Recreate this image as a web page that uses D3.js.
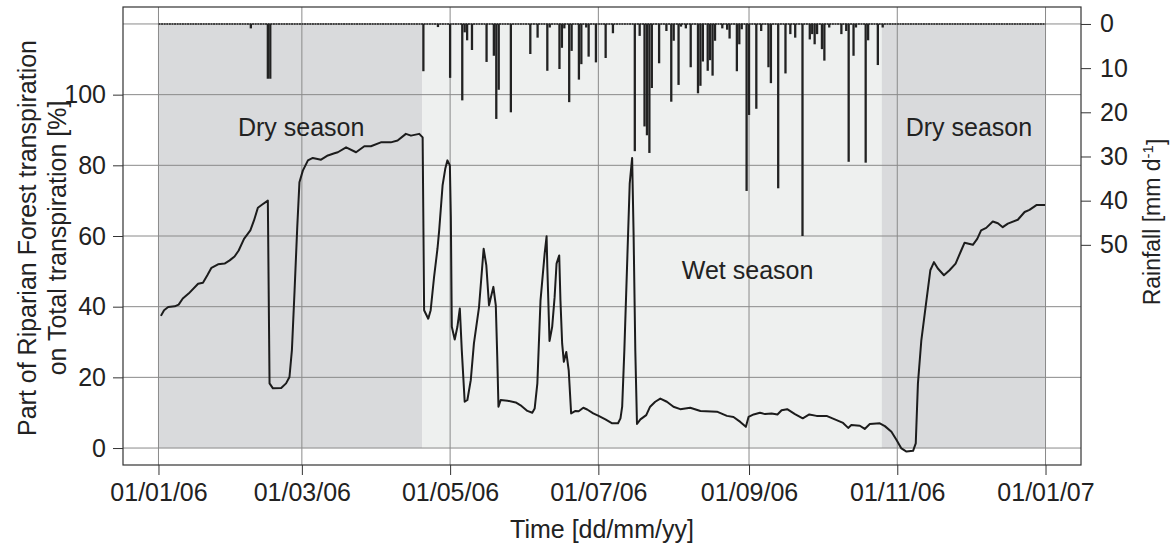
<!DOCTYPE html>
<html>
<head>
<meta charset="utf-8">
<script src="https://cdn.jsdelivr.net/npm/d3@7"></script>
<style>
body { margin: 0; background: #fff; }
text { font-family: "Liberation Sans", Arial, Helvetica, sans-serif; fill: #222; }
.axis text { font-size: 25px; fill: #222; }
.axis line { stroke: #333; }
</style>
</head>
<body>
<div class="chart"></div>
<script>
// transpiration share [%], [day of 2006, value]
var transp = [
  [1,37.4],[2.3,39],[4,39.9],[6.7,40.1],[8.3,40.6],[10,42.3],[12.4,43.7],[16.3,46.5],[18.3,46.8],
  [20.1,48.9],[21.8,51],[24.5,52],[27.2,52.2],[29.3,53.1],[31.3,54.2],[33,55.9],[35.2,59.2],
  [37.8,61.6],[39.3,64.4],[40.9,68],[42.7,68.9],[45,70],[45.7,18.3],[47.1,16.9],[50.5,17],
  [52.5,18.3],[53.9,20.1],[54.9,27.7],[56,44.6],[57.1,62.5],[58,75.2],[59.4,78.5],[61.5,81.4],
  [63.5,82.1],[66.9,81.6],[69.7,82.8],[72.4,83.4],[73.8,83.7],[77.2,85.1],[81.3,83.7],[84.7,85.4],
  [87.4,85.4],[91.5,86.5],[95.6,86.5],[98.4,87],[101.8,88.9],[103.9,88.4],[107.3,88.9],[108.7,87.9],
  [109.3,39],[111,36.6],[112,39],[113.4,48.4],[114.8,56.4],[115.5,61.6],[116.9,74.3],[118,79],
  [118.9,81.4],[119.9,80],[120.3,65.3],[120.7,34.3],[121.9,30.7],[123,34.3],[124,39.5],[124.8,27.7],
  [126,13.1],[127.1,13.6],[128.5,19.2],[129.8,29.6],[131.9,39.9],[133.8,56.4],[134.9,51.7],[136,40.4],
  [137.8,45.6],[138.8,40.4],[139.4,25.8],[139.9,11.7],[140.8,13.6],[143.6,13.4],[147,12.9],[149,12.1],
  [151.8,10.5],[153.8,10],[154.8,11.2],[155.9,18.3],[157.2,41.8],[158.9,55],[159.7,59.9],[160,51.2],
  [160.9,30.3],[162,34.3],[163,42.7],[163.8,52.2],[164.9,54.5],[165.4,41.8],[166.1,29.6],[166.8,24.4],
  [167.8,27.2],[168.8,22],[169.8,9.8],[171.6,10.5],[172.9,10.4],[174.8,11.4],[176.4,10.9],[178.9,9.8],
  [181.1,9.1],[183.9,8.1],[186.7,7],[189.1,7],[190.1,8.4],[190.8,11.7],[191.7,27.7],[192.8,51.2],
  [193.9,74.8],[194.9,82.1],[195.5,60.6],[196.2,27.7],[196.9,6.8],[198.3,8.1],[200.7,9.3],[202.3,11.7],
  [204.4,13.1],[206.5,14],[209.2,13.1],[211.9,11.7],[214.7,11],[218.8,11.4],[223,10.5],[229.8,10.3],
  [233.9,9.1],[236.6,8.8],[239.4,7.4],[241.7,6],[242.8,8.8],[244.9,9.5],[247.5,10],[249.6,9.6],
  [252.3,9.8],[254.7,9.5],[256.4,10.7],[258.7,11],[261.9,9.6],[265.1,8.4],[267.8,9.5],[270.8,9.1],
  [274.9,9.1],[278.3,8.1],[281.7,7.1],[283.8,5.7],[285.1,6.5],[288.6,6.3],[290.6,5.4],[292.7,6.8],
  [296.8,7],[298.9,6.2],[301.6,4.6],[303.7,2.3],[305.7,-0.1],[307.8,-1],[310.5,-0.8],[311.6,1.3],
  [312.5,18.3],[313.9,30.5],[316,41.8],[317.6,50.3],[319.1,52.6],[320.7,50.8],[323.2,48.9],[325.5,50.3],
  [328,52.2],[330.3,55.9],[331.7,58.1],[335.1,57.5],[336.9,59.2],[338.5,61.6],[340.6,62.3],[343.3,64.1],
  [345.4,63.6],[347.4,62.5],[349.5,63.5],[353.6,64.6],[356.4,66.8],[358.4,67.4],[361.4,68.8],[364.8,68.8]
];

// daily rainfall [mm], [day of 2006, value], dry days left out
var rain = [
  [38,1.0],[45,12.4],[46,12.4],[109,10.7],[115,0.7],[120,12.2],[125,17.3],[126,1.9],[127,3.7],
  [129,5.9],[135,8.6],[138,7.2],[139,21.5],[140,14.9],[145,20.0],[153,6.8],[156,3.1],[160,10.6],
  [161,0.8],[165,10.2],[166,5.4],[167,1.0],[169,17.7],[170,6.1],[173,12.6],[174,9.1],[176,0.8],
  [177,7.4],[180,8.7],[184,7.7],[187,2.1],[196,28.8],[198,2.7],[200,23.2],[201,25.2],[202,29.2],
  [203,14.5],[206,8.9],[209,1.6],[211,17.6],[212,3.8],[214,13.8],[215,0.6],[217,1.0],[219,9.8],
  [222,15.7],[223,14.0],[224,8.5],[226,10.6],[227,8.2],[228,11.7],[229,3.8],[232,1.0],[234,1.3],
  [235,3.3],[238,10.7],[239,4.6],[240,1.2],[242,37.8],[243,20.6],[246,19.2],[248,1.6],[251,9.8],
  [252,13.4],[255,37.2],[258,11.2],[260,2.3],[262,3.1],[265,48.0],[268,3.5],[269,2.3],[270,4.6],
  [271,2.3],[273,5.7],[274,8.3],[276,0.8],[281,2.3],[283,1.6],[284,31.2],[286,7.2],[287,0.8],
  [291,31.4],[292,3.7],[296,9.3],[298,0.8]
];

var seasons = [
  {start: 0, end: 108.6, name: "Dry season"},
  {start: 108.6, end: 297.6, name: "Wet season"},
  {start: 297.6, end: 365, name: "Dry season"}
];

var dateTicks = ["2006-01-01", "2006-03-01", "2006-05-01", "2006-07-01", "2006-09-01", "2006-11-01", "2007-01-01"];
var pctTicks = [0, 20, 40, 60, 80, 100];
var pctGrid = [0, 20, 40, 60, 80, 100, 120];
var rainTicks = [0, 10, 20, 30, 40, 50];

var margin = {top: 7, right: 92, bottom: 81, left: 123};
var width = 1173 - margin.left - margin.right;
var height = 546 - margin.top - margin.bottom;

var t0 = Date.UTC(2006, 0, 1);
function day(d) { return new Date(t0 + d * 864e5); }

var x = d3.scaleUtc()
    .domain([day(-365 * 0.04), day(365 * 1.04)])
    .range([0, width]);

var y = d3.scaleLinear()
    .domain([-120 * 0.04, 120 * 1.04])
    .range([height, 0]);

// rainfall hangs from the top, axis reversed
var rainMax = 96;
var yRain = d3.scaleLinear()
    .domain([-rainMax * 0.04, rainMax * 1.04])
    .range([0, height]);

var svg = d3.select(".chart").append("svg")
    .attr("width", width + margin.left + margin.right)
    .attr("height", height + margin.top + margin.bottom)
  .append("g")
    .attr("transform", "translate(" + margin.left + "," + margin.top + ")");

// season shading
svg.selectAll(".season")
    .data(seasons)
  .enter().append("rect")
    .attr("class", "season")
    .attr("x", function(d) { return x(day(d.start)); })
    .attr("width", function(d) { return x(day(d.end)) - x(day(d.start)); })
    .attr("y", y(120))
    .attr("height", y(0) - y(120))
    .attr("fill", function(d) { return d.name == "Wet season" ? "#eef0ef" : "#d9dadc"; });

// grid
svg.selectAll(".hgrid")
    .data(pctGrid)
  .enter().append("line")
    .attr("x1", 0).attr("x2", width)
    .attr("y1", function(d) { return y(d); })
    .attr("y2", function(d) { return y(d); })
    .attr("stroke", "#8a8a8a").attr("stroke-width", 1);

svg.selectAll(".vgrid")
    .data(dateTicks)
  .enter().append("line")
    .attr("x1", function(d) { return x(new Date(d)); })
    .attr("x2", function(d) { return x(new Date(d)); })
    .attr("y1", 0).attr("y2", height)
    .attr("stroke", "#8a8a8a").attr("stroke-width", 1);

// rain baseline + bars
svg.append("line")
    .attr("x1", x(day(0))).attr("x2", x(day(365)))
    .attr("y1", yRain(0)).attr("y2", yRain(0))
    .attr("stroke", "#444").attr("stroke-width", 2)
    .attr("stroke-dasharray", "2,0.6");

svg.selectAll(".bar")
    .data(rain)
  .enter().append("line")
    .attr("class", "bar")
    .attr("x1", function(d) { return x(day(d[0])); })
    .attr("x2", function(d) { return x(day(d[0])); })
    .attr("y1", yRain(0))
    .attr("y2", function(d) { return yRain(d[1]); })
    .attr("stroke", "#222").attr("stroke-width", 2.3);

// transpiration line
var line = d3.line()
    .x(function(d) { return x(day(d[0])); })
    .y(function(d) { return y(d[1]); });

svg.append("path")
    .datum(transp)
    .attr("d", line)
    .attr("fill", "none")
    .attr("stroke", "#1c1c1c")
    .attr("stroke-width", 2)
    .attr("stroke-linejoin", "round");

// season labels
var labelPos = [[58.7, 88.2], [242.4, 47.7], [333.5, 88.2]];
svg.selectAll(".slabel")
    .data(seasons)
  .enter().append("text")
    .attr("class", "slabel")
    .attr("x", function(d, i) { return x(day(labelPos[i][0])); })
    .attr("y", function(d, i) { return y(labelPos[i][1]); })
    .attr("text-anchor", "middle")
    .style("font-size", "25px")
    .text(function(d) { return d.name; });

// frame
svg.append("rect")
    .attr("width", width).attr("height", height)
    .attr("fill", "none").attr("stroke", "#333").attr("stroke-width", 1.2);

// axes
svg.append("g")
    .attr("class", "axis")
    .call(d3.axisLeft(y).tickValues(pctTicks).tickSize(10).tickPadding(7))
    .call(function(g) { g.select(".domain").remove(); });

svg.append("g")
    .attr("class", "axis")
    .attr("transform", "translate(" + width + ",0)")
    .call(d3.axisRight(yRain).tickValues(rainTicks).tickSize(10).tickPadding(9))
    .call(function(g) { g.select(".domain").remove(); });

svg.append("g")
    .attr("class", "axis")
    .attr("transform", "translate(0," + height + ")")
    .call(d3.axisBottom(x)
      .tickValues(dateTicks.map(function(d) { return new Date(d); }))
      .tickFormat(d3.utcFormat("%d/%m/%y"))
      .tickSize(10).tickPadding(8))
    .call(function(g) { g.select(".domain").remove(); });

// axis titles
svg.append("text")
    .attr("x", width / 2)
    .attr("y", height + 73)
    .attr("text-anchor", "middle")
    .style("font-size", "25px")
    .text("Time [dd/mm/yy]");

var leftTitle = ["Part of Riparian Forest transpiration", "on Total transpiration [%]"];
svg.selectAll(".ltitle")
    .data(leftTitle)
  .enter().append("text")
    .attr("transform", function(d, i) {
      return "translate(" + (-margin.left + 36 + i * 30) + "," + (height / 2 + 2) + ") rotate(-90)";
    })
    .attr("text-anchor", "middle")
    .style("font-size", "25px")
    .text(function(d) { return d; });

var rt = svg.append("text")
    .attr("transform", "translate(" + (width + 79) + "," + (height / 2 - 14) + ") rotate(-90)")
    .attr("text-anchor", "middle")
    .style("font-size", "23px");
rt.append("tspan").text("Rainfall [mm d");
rt.append("tspan").attr("dy", "-0.5em").style("font-size", "15px").text("-1");
rt.append("tspan").attr("dy", "0.5em").text("]");
</script>
</body>
</html>
